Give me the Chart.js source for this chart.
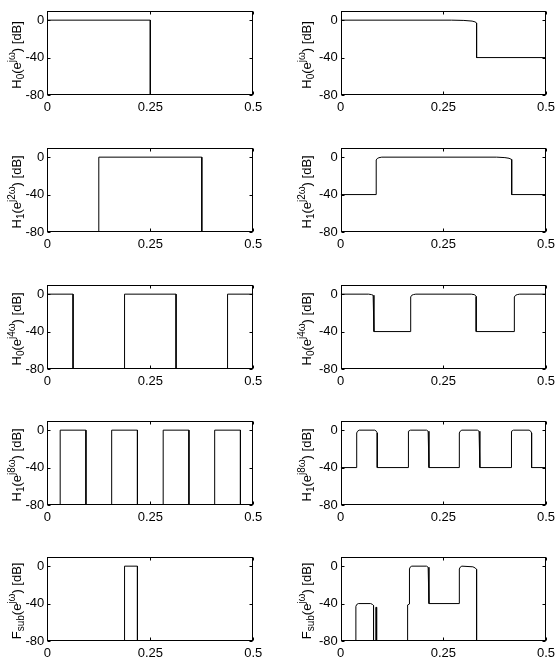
<!DOCTYPE html>
<html><head><meta charset="utf-8">
<script src="https://cdn.jsdelivr.net/npm/chart.js@4/dist/chart.umd.min.js"></script>
<style>
html,body{margin:0;padding:0;background:#fff;}
#wrap{position:relative;width:560px;height:662px;overflow:hidden;}
canvas{position:absolute;}
</style></head><body><div id="wrap"></div>
<script>
// ---- tick values / labels ----
const xTicks = [0, 0.25, 0.5];
const xTickLabels = ['0', '0.25', '0.5'];
const yTicks = [-80, -40, 0];
const yTickLabels = ['-80', '-40', '0'];

// ---- row 1: H0(e^jw) ----
const freqH0 = [0, 0.25, 0.25];
const magH0 = [0, 0, -100];
const freqH0d = [0, 0.27, 0.30, 0.32, 0.327, 0.331, 0.331, 0.5];
const magH0d = [0, 0, -0.3, -1, -1.8, -3, -40, -40];

// ---- row 2: H1(e^j2w) ----
const freqH1 = [0.125, 0.125, 0.375, 0.375];
const magH1 = [-100, 0, 0, -100];
const freqH1d = [0, 0.0865, 0.0865, 0.089, 0.093, 0.1, 0.38, 0.40, 0.41, 0.4165, 0.4165, 0.5];
const magH1d = [-40, -40, -3, -1.5, -0.6, 0, 0, -0.5, -1.2, -2.5, -40, -40];

// ---- row 3: H0(e^j4w) ----
const freqH0x4 = [0, 0.0625, 0.0625, 0.1875, 0.1875, 0.3125, 0.3125, 0.4375, 0.4375, 0.5];
const magH0x4 = [0, 0, -100, -100, 0, 0, -100, -100, 0, 0];
const freqH0x4d = [0, 0.068, 0.075, 0.079, 0.081, 0.081, 0.1705, 0.1705, 0.173, 0.177, 0.183, 0.318, 0.325, 0.328, 0.330, 0.330, 0.423, 0.423, 0.426, 0.43, 0.436, 0.5];
const magH0x4d = [0, 0, -0.5, -1.2, -2.5, -40, -40, -3, -1.2, -0.5, 0, 0, -0.5, -1.2, -2.5, -40, -40, -3, -1.2, -0.5, 0, 0];

// ---- row 4: H1(e^j8w) ----
const freqH1x8 = [0.03125, 0.03125, 0.09375, 0.09375, 0.15625, 0.15625, 0.21875, 0.21875, 0.28125, 0.28125, 0.34375, 0.34375, 0.40625, 0.40625, 0.46875, 0.46875];
const magH1x8 = [-100, 0, 0, -100, -100, 0, 0, -100, -100, 0, 0, -100, -100, 0, 0, -100];
const freqH1x8d = [0, 0.039, 0.039, 0.041, 0.045, 0.083, 0.087, 0.089, 0.089, 0.164, 0.164, 0.166, 0.170, 0.209, 0.213, 0.215, 0.215, 0.289, 0.289, 0.291, 0.295, 0.333, 0.337, 0.339, 0.339, 0.415, 0.415, 0.417, 0.421, 0.459, 0.463, 0.465, 0.465, 0.5];
const magH1x8d = [-40, -40, -3, -1.2, 0, 0, -1.2, -3, -40, -40, -3, -1.2, 0, 0, -1.2, -3, -40, -40, -3, -1.2, 0, 0, -1.2, -3, -40, -40, -3, -1.2, 0, 0, -1.2, -3, -40, -40];

// ---- row 5: Fsub(e^jw) ----
const freqFsub = [0.1875, 0.1875, 0.21875, 0.21875];
const magFsub = [-100, 0, 0, -100];
const freqFsubd = [0.037, 0.037, 0.039, 0.043, 0.073, 0.077, 0.080, 0.080, 0.0855, 0.0855, 0.0875, 0.0875, 0.163, 0.163, 0.1675, 0.1675, 0.169, 0.173, 0.209, 0.213, 0.215, 0.215, 0.289, 0.289, 0.291, 0.295, 0.322, 0.328, 0.331, 0.331];
const magFsubd = [-100, -43, -41, -40, -40, -40.8, -42, -100, -100, -44, -44, -100, -100, -41.5, -40.5, -3, -1.2, 0, 0, -1.2, -3, -40, -40, -3, -1.2, 0, -0.7, -2, -3.5, -100];

// ---- y axis titles (rich text parts) ----
const yTitles = [
  [['H','n'],['0','sub'],['(e','n'],['jω','sup'],[') [dB]','n']],
  [['H','n'],['1','sub'],['(e','n'],['j2ω','sup'],[') [dB]','n']],
  [['H','n'],['0','sub'],['(e','n'],['j4ω','sup'],[') [dB]','n']],
  [['H','n'],['1','sub'],['(e','n'],['j8ω','sup'],[') [dB]','n']],
  [['F','n'],['sub','sub'],['(e','n'],['jω','sup'],[') [dB]','n']]
];

const panels = [
  [0, 0, freqH0, magH0], [1, 0, freqH0d, magH0d],
  [0, 1, freqH1, magH1], [1, 1, freqH1d, magH1d],
  [0, 2, freqH0x4, magH0x4], [1, 2, freqH0x4d, magH0x4d],
  [0, 3, freqH1x8, magH1x8], [1, 3, freqH1x8d, magH1x8d],
  [0, 4, freqFsub, magFsub], [1, 4, freqFsubd, magFsubd]
];

const FONT = '"Liberation Sans", Arial, Helvetica, sans-serif';
const ROW_TOPS = [10, 147, 284, 420, 556];

const framePlugin = {
  id: 'frame',
  afterDatasetsDraw(chart) {
    const {ctx, chartArea: a, scales} = chart;
    ctx.save();
    ctx.strokeStyle = '#000';
    ctx.lineWidth = 1;
    const l = Math.round(a.left) + 0.5, r = Math.round(a.right) - 0.5;
    const t = Math.round(a.top) + 0.5, b = Math.round(a.bottom) - 0.5;
    ctx.strokeRect(l, t, r - l, b - t);
    ctx.beginPath();
    const tl = 3;
    xTicks.forEach(v => {
      const px = Math.round(scales.x.getPixelForValue(v)) + 0.5;
      ctx.moveTo(px, b); ctx.lineTo(px, b - tl);
      ctx.moveTo(px, t); ctx.lineTo(px, t + tl);
    });
    yTicks.forEach(v => {
      const py = Math.round(scales.y.getPixelForValue(v)) + 0.5;
      ctx.moveTo(l, py); ctx.lineTo(l + tl, py);
      ctx.moveTo(r, py); ctx.lineTo(r - tl, py);
    });
    ctx.stroke();
    ctx.restore();
  }
};

const titlePlugin = {
  id: 'ytitle',
  afterDraw(chart, args, opts) {
    const {ctx, chartArea: a} = chart;
    const parts = opts.parts;
    const fonts = {n: '13px ' + FONT, sub: '10px ' + FONT, sup: '10px ' + FONT};
    ctx.save();
    ctx.translate(opts.baseX, (a.top + a.bottom) / 2 + 2);
    ctx.rotate(-Math.PI / 2);
    ctx.textBaseline = 'alphabetic';
    ctx.textAlign = 'left';
    ctx.fillStyle = '#000';
    let total = 0;
    const widths = parts.map(p => { ctx.font = fonts[p[1]]; const w = ctx.measureText(p[0]).width; total += w; return w; });
    let x = -total / 2;
    parts.forEach((p, i) => {
      ctx.font = fonts[p[1]];
      const dy = p[1] === 'sub' ? 3 : (p[1] === 'sup' ? -6 : 0);
      ctx.fillText(p[0], x, dy);
      x += widths[i];
    });
    ctx.restore();
  }
};

const wrap = document.getElementById('wrap');
panels.forEach(([col, row, xs, ys]) => {
  const cv = document.createElement('canvas');
  const W = 280, H = 130;
  cv.width = W; cv.height = H;
  cv.style.width = W + 'px'; cv.style.height = H + 'px';
  cv.style.left = (col === 0 ? 0 : 280) + 'px';
  cv.style.top = (ROW_TOPS[row] - 10) + 'px';
  wrap.appendChild(cv);
  const yAxisW = col === 0 ? 47.3 : 60.7;
  const rightPad = col === 0 ? 26.7 : 13.3;
  new Chart(cv, {
    type: 'scatter',
    data: {datasets: [{
      data: xs.map((x, i) => ({x: x, y: ys[i]})),
      showLine: true, borderColor: '#000', borderWidth: 1,
      pointRadius: 0, fill: false, tension: 0
    }]},
    options: {
      responsive: false, animation: false, devicePixelRatio: 1, events: [],
      layout: {padding: {left: 0, top: 10, right: rightPad, bottom: 0}},
      plugins: {
        legend: {display: false}, tooltip: {enabled: false},
        ytitle: {parts: yTitles[row], baseX: col === 0 ? 21 : 31}
      },
      scales: {
        x: {
          type: 'linear', min: 0, max: 0.5,
          afterBuildTicks: s => { s.ticks = xTicks.map(v => ({value: v})); },
          afterFit: s => { s.height = 35; },
          grid: {display: false, drawTicks: false}, border: {display: false},
          ticks: {autoSkip: false, maxRotation: 0, padding: 5, color: '#000',
            font: {family: FONT, size: 13},
            callback: (v, i) => xTickLabels[i]}
        },
        y: {
          type: 'linear', min: -80, max: 10,
          afterBuildTicks: s => { s.ticks = yTicks.map(v => ({value: v})); },
          afterFit: s => { s.width = yAxisW; },
          grid: {display: false, drawTicks: false}, border: {display: false},
          ticks: {autoSkip: false, padding: 3, color: '#000',
            font: {family: FONT, size: 13},
            callback: (v, i) => yTickLabels[i]}
        }
      }
    },
    plugins: [framePlugin, titlePlugin]
  });
});
</script></body></html>
